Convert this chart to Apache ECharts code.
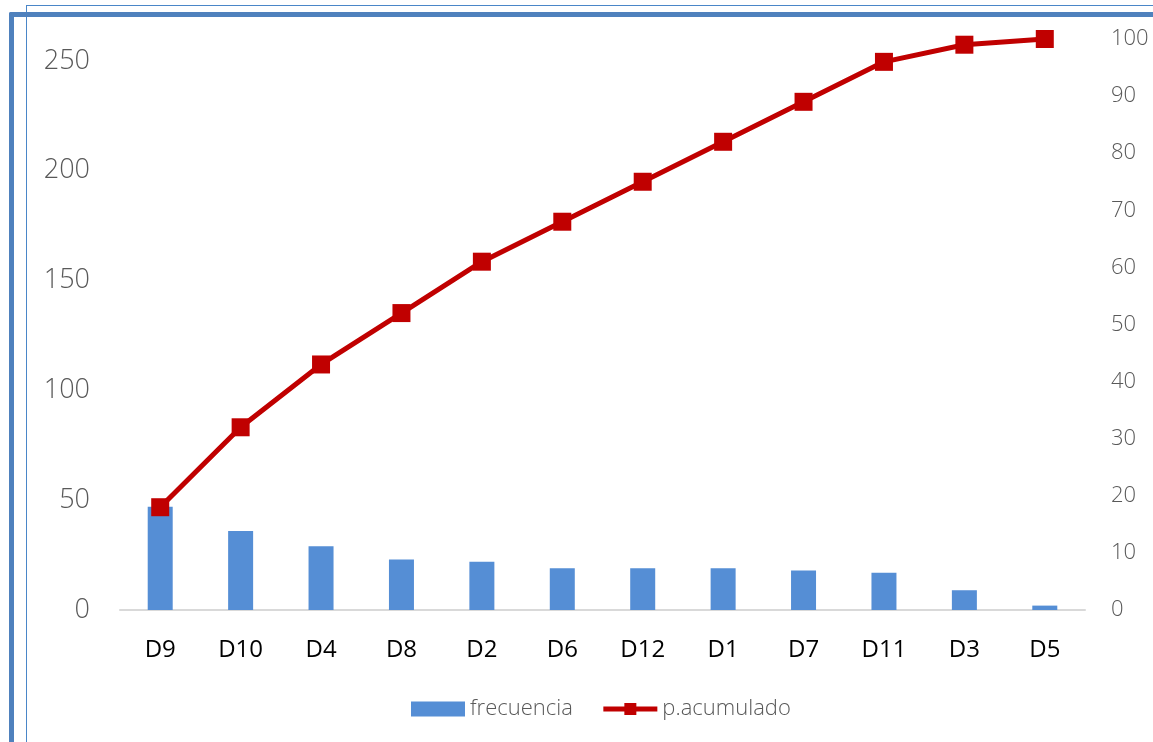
<!DOCTYPE html>
<html lang="es">
  <head>
    <meta charset="UTF-8" />
    <title>Pareto</title>
    <script src="https://cdn.jsdelivr.net/npm/echarts@6/dist/echarts.min.js"></script>
  </head>
  <body style="margin: 0; background: #fff">
    <div id="container" style="width: 1153px; height: 742px"></div>
    <script>
      // datos
      const categorias = ["D9", "D10", "D4", "D8", "D2", "D6", "D12", "D1", "D7", "D11", "D3", "D5"];
      const frecuencia = [47, 36, 29, 23, 22, 19, 19, 19, 18, 17, 9, 2];
      const acumulado = [18, 32, 43, 52, 61, 68, 75, 82, 89, 96, 99, 100];

      const fuente = "'Open Sans', 'Noto Sans', sans-serif";
      const gris = "#595959";

      let chart = echarts.init(document.getElementById("container"));
      let option = {
        animation: false,
        textStyle: { fontFamily: fuente },
        grid: { left: 120, right: 68, top: 39, bottom: 132 },
        legend: {
          bottom: 17,
          left: 406,
          itemWidth: 54,
          itemHeight: 15,
          itemGap: 28,
          textStyle: { fontSize: 22, color: gris, fontWeight: 300 },
          data: [
            { name: "frecuencia", icon: "rect" },
            { name: "p.acumulado", lineStyle: { width: 5 } }
          ]
        },
        xAxis: {
          type: "category",
          data: categorias,
          axisLine: { lineStyle: { color: "#d9d9d9", width: 2 } },
          axisTick: { show: false },
          axisLabel: { color: "#000", fontSize: 24, margin: 28 }
        },
        yAxis: [
          {
            type: "value",
            min: 0,
            max: 260,
            interval: 50,
            splitLine: { show: false },
            axisLine: { show: false },
            axisLabel: { color: gris, fontSize: 27, fontWeight: 300, margin: 30, showMaxLabel: false }
          },
          {
            type: "value",
            min: 0,
            max: 100,
            interval: 10,
            splitLine: { show: false },
            axisLine: { show: false },
            axisLabel: { color: gris, fontSize: 22, fontWeight: 300, margin: 26 }
          }
        ],
        series: [
          {
            name: "frecuencia",
            type: "bar",
            data: frecuencia,
            barWidth: 25,
            itemStyle: { color: "#558ed5" }
          },
          {
            name: "p.acumulado",
            type: "line",
            yAxisIndex: 1,
            data: acumulado,
            symbol: "rect",
            symbolSize: 18,
            lineStyle: { color: "#c00000", width: 5 },
            itemStyle: { color: "#c00000" }
          }
        ],
        // marco azul del recorte
        graphic: [
          { type: "rect", shape: { x: 26, y: 5, width: 1200, height: 1 }, style: { fill: "#4a86c8" } },
          { type: "rect", shape: { x: 26, y: 5, width: 1, height: 800 }, style: { fill: "#4a86c8" } },
          { type: "rect", shape: { x: 9, y: 12, width: 1200, height: 5, r: 2 }, style: { fill: "#4f81bd" } },
          { type: "rect", shape: { x: 9, y: 12, width: 5, height: 800, r: 2 }, style: { fill: "#4f81bd" } }
        ]
      };
      chart.setOption(option);
    </script>
  </body>
</html>
